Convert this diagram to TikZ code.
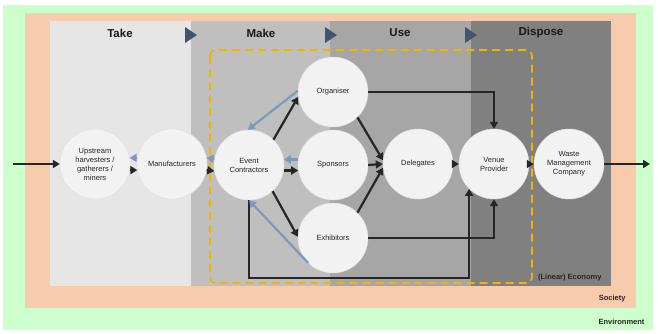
\documentclass[tikz,border=0pt]{standalone}
\usepackage{fontspec}
\setmainfont{Liberation Sans}
\usetikzlibrary{arrows.meta}
\definecolor{envg}{RGB}{204,255,204}
\definecolor{soc}{RGB}{248,203,173}
\definecolor{ctake}{RGB}{230,230,230}
\definecolor{cmake}{RGB}{191,191,191}
\definecolor{cuse}{RGB}{166,166,166}
\definecolor{cdisp}{RGB}{128,128,128}
\definecolor{tri}{RGB}{68,84,106}
\definecolor{ylw}{RGB}{241,180,0}
\definecolor{blu}{RGB}{127,152,190}
\definecolor{nodefill}{RGB}{242,242,242}
\begin{document}
\begin{tikzpicture}[x=1pt,y=-1pt,
  actor/.style={circle,fill=nodefill,draw=gray!25,line width=0.4pt,minimum size=70pt,inner sep=0pt,align=center,font=\fontsize{7.5}{9}\selectfont,text=black!85},
  flow/.style={draw=black!85,line width=2.2pt,-{Triangle[length=7pt,width=8pt]}},
  back/.style={draw=blu,line width=2.2pt,-{Triangle[length=7pt,width=8pt]}},
  hdr/.style={font=\fontsize{11.5}{13}\selectfont\bfseries,text=black!90},
  lbl/.style={font=\fontsize{7.5}{9}\selectfont\bfseries,anchor=east,text=black!85},
  phase/.style={fill=tri}]
\useasboundingbox (0,0) rectangle (658,333);
\fill[white] (0,0) rectangle (658,333);
% layers
\fill[envg] (3,5) rectangle (653,330);
\fill[soc] (25,13) rectangle (636,308);
\fill[ctake] (50,21) rectangle (191,286);
\fill[cmake] (191,21) rectangle (330,286);
\fill[cuse] (330,21) rectangle (471,286);
\fill[cdisp] (471,21) rectangle (611,286);
% headers
\node[hdr] (htake) at (120,33) {Take};
\node[hdr] (hmake) at (261,33) {Make};
\node[hdr] (huse) at (400,33) {Use};
\node[hdr] (hdisp) at (541,33) {Dispose};
\fill[phase] (185,27) -- (197,35) -- (185,43) -- cycle;
\fill[phase] (325,27) -- (337,35) -- (325,43) -- cycle;
\fill[phase] (465,27) -- (477,35) -- (465,43) -- cycle;
% boundary labels
\node[lbl] (leco) at (605,278) {(Linear) Economy};
\node[lbl] (lsoc) at (629,299) {Society};
\node[lbl] (lenv) at (648,322) {Environment};
% yellow dashed event boundary
\draw[ylw,line width=1.6pt,dash pattern=on 8pt off 5pt,rounded corners=6pt] (210,50) rectangle (532,283);
% nodes
\node[actor] (up) at (95,164) {Upstream\\harvesters /\\gatherers /\\miners};
\node[actor] (mf) at (172,164) {Manufacturers};
\node[actor] (ec) at (249,165) {Event\\Contractors};
\node[actor] (org) at (333,92) {Organiser};
\node[actor] (sp) at (333,165) {Sponsors};
\node[actor] (ex) at (333,238) {Exhibitors};
\node[actor] (del) at (418,164) {Delegates};
\node[actor] (vp) at (494,164) {Venue\\Provider};
\node[actor] (wm) at (569,164) {Waste\\Management\\Company};
\coordinate (src) at (13,164);
\coordinate (snk) at (650,164);
\coordinate (lowc) at (249,278);
% forward flows
\draw[flow] (src) -- (up.west);
\draw[flow] (up.-10) -- (mf.190);
\draw[flow] (mf.-10) -- (ec.190);
\draw[flow] (ec.-9) -- (sp.189);
\draw[flow] (ec.46) -- (org.188);
\draw[flow] (ec.-48) -- (ex.178);
\draw[flow] (org.-46) -- (del.174);
\draw[flow] (sp.east) -- (del.west);
\draw[flow] (ex.46) -- (del.186);
\draw[flow] (del.east) -- (vp.west);
\draw[flow] (vp.east) -- (wm.west);
\draw[flow] (wm.east) -- (snk);
\draw[flow] (org.east) -| (vp.north);
\draw[flow] (ex.east) -| (vp.south);
\draw[flow] (ec.south) -- (lowc) -| (vp.225);
% return flows
\draw[back] (mf.170) -- (up.10);
\draw[back] (ec.170) -- (mf.10);
\draw[back] (sp.171) -- (ec.9);
\draw[back] (org.178) -- (ec.92);
\draw[back] (ex.225) -- (ec.south);
\end{tikzpicture}
\end{document}
